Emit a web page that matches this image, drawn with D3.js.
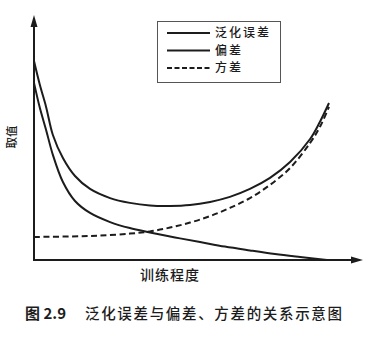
<!DOCTYPE html>
<html><head><meta charset="utf-8">
<script src="https://cdn.jsdelivr.net/npm/d3@7"></script>
<style>body{margin:0;background:#fff}svg{display:block}</style>
</head><body>
<script>
// training level (0-100) and value (0-100)
const genX     = [0, 2.0, 4.1, 6.4, 9.8, 13.9, 19.0, 25.8, 32.5, 39.3, 46.1, 52.9, 59.7, 66.4, 73.2, 80.0, 86.8, 93.6, 96.9, 100];
const genErr   = [82.9, 72.9, 63.8, 52.1, 42.5, 35.0, 29.6, 25.8, 23.8, 22.7, 22.5, 22.9, 24.2, 26.3, 29.6, 34.2, 40.8, 50.4, 57.5, 65.4];
const biasX    = [0, 2.0, 4.1, 6.4, 9.8, 13.9, 19.0, 25.8, 32.5, 39.3, 47.8, 56.3, 64.7, 73.2, 81.7, 90.2, 99.3];
const biasVal  = [73.8, 63.3, 54.2, 43.8, 32.5, 24.6, 19.6, 15.8, 13.3, 11.5, 9.4, 7.5, 5.6, 4.0, 2.5, 1.25, 0];
const varX     = [0, 12.2, 22.4, 32.5, 39.3, 46.1, 52.9, 59.7, 66.4, 73.2, 80.0, 86.8, 93.6, 96.9, 100];
const varVal   = [9.6, 9.8, 10.2, 11.0, 11.9, 13.5, 15.6, 18.3, 21.7, 25.8, 31.3, 38.3, 48.8, 55.4, 63.8];
const legendLabels = ["泛化误差", "偏差", "方差"];
const xLabel = "训练程度";
const yLabel = "取值";
const captionNum = "图 2.9";
const captionText = "泛化误差与偏差、方差的关系示意图";

const W = 368, H = 338;
const svg = d3.select("body").append("svg").attr("width", W).attr("height", H);
const x = d3.scaleLinear().domain([0, 100]).range([34, 329]);
const y = d3.scaleLinear().domain([0, 100]).range([260, 20]);
const ink = "#1c1c1c";
const font = "'Noto Sans CJK SC', sans-serif";

// axes
svg.append("line").attr("x1", x(0)).attr("y1", y(0)).attr("x2", x(0)).attr("y2", 24)
  .attr("stroke", ink).attr("stroke-width", 2);
svg.append("path").attr("d", `M${x(0)},15 L${x(0)-3.5},27 L${x(0)+3.5},27 Z`).attr("fill", ink);
svg.append("line").attr("x1", x(0)-1).attr("y1", y(0)).attr("x2", 354).attr("y2", y(0))
  .attr("stroke", ink).attr("stroke-width", 2);
svg.append("path").attr("d", `M363,${y(0)} L351,${y(0)-3.5} L351,${y(0)+3.5} Z`).attr("fill", ink);

const line = d3.line().x(d => x(d[0])).y(d => y(d[1])).curve(d3.curveCatmullRom.alpha(0.5));
const series = [
  {xs: genX, ys: genErr, dash: null},
  {xs: biasX, ys: biasVal, dash: null},
  {xs: varX, ys: varVal, dash: "6,3.5"}
];
series.forEach(s => {
  svg.append("path").datum(d3.zip(s.xs, s.ys)).attr("d", line)
    .attr("fill", "none").attr("stroke", ink).attr("stroke-width", 2)
    .attr("stroke-dasharray", s.dash);
});

// legend
const lg = svg.append("g");
lg.append("rect").attr("x", 157.5).attr("y", 21.5).attr("width", 123).attr("height", 61)
  .attr("fill", "#fff").attr("stroke", "#555").attr("stroke-width", 1);
legendLabels.forEach((t, i) => {
  const yy = 33 + i * 17.5;
  lg.append("line").attr("x1", 167).attr("x2", 210).attr("y1", yy).attr("y2", yy)
    .attr("stroke", ink).attr("stroke-width", 2)
    .attr("stroke-dasharray", series[i].dash ? "5,2.5" : null);
  lg.append("text").attr("x", 215).attr("y", yy).attr("dy", "0.36em")
    .attr("font-family", font).attr("font-size", 12).attr("font-weight", 500)
    .attr("letter-spacing", 2).attr("fill", ink).text(t);
});

// axis labels
svg.append("text").attr("x", 170).attr("y", 275).attr("dy", "0.36em")
  .attr("text-anchor", "middle").attr("font-family", font).attr("font-size", 14)
  .attr("font-weight", 500).attr("letter-spacing", 1).attr("fill", ink).text(xLabel);
svg.append("text").attr("transform", "translate(12,137) rotate(-90)").attr("dy", "0.36em")
  .attr("text-anchor", "middle").attr("font-family", font).attr("font-size", 11.5)
  .attr("font-weight", 500).attr("fill", ink).text(yLabel);

// caption
svg.append("text").attr("x", 25).attr("y", 314).attr("dy", "0.36em")
  .attr("font-family", font).attr("font-size", 15).attr("font-weight", 700)
  .attr("fill", ink).text(captionNum);
svg.append("text").attr("x", 85).attr("y", 314).attr("dy", "0.36em")
  .attr("font-family", font).attr("font-size", 14.5).attr("font-weight", 500)
  .attr("textLength", 257).attr("lengthAdjust", "spacing")
  .attr("fill", ink).text(captionText);
</script>
</body></html>
